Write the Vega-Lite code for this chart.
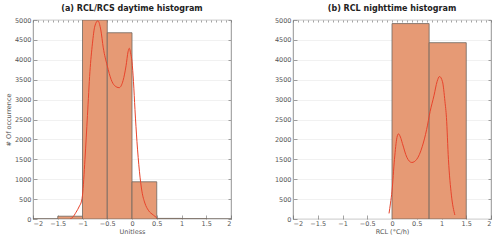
{
  "$schema": "https://vega.github.io/schema/vega-lite/v6.json",
  "background": "white",
  "padding": {"left": 5, "top": 4, "right": 5, "bottom": 5},
  "spacing": 42,
  "datasets": {
    "dayBars": [
      {"b0": -2, "b1": -1.5, "count": 5},
      {"b0": -1.5, "b1": -1, "count": 70},
      {"b0": -1, "b1": -0.5, "count": 5000},
      {"b0": -0.5, "b1": 0, "count": 4680},
      {"b0": 0, "b1": 0.5, "count": 935},
      {"b0": 0.5, "b1": 1, "count": 15},
      {"b0": 1, "b1": 1.5, "count": 8},
      {"b0": 1.5, "b1": 2, "count": 2}
    ],
    "dayCurve": [
      {"x": -1.25, "y": 0}, {"x": -1.2, "y": 40}, {"x": -1.13, "y": 170}, {"x": -1.06, "y": 330},
      {"x": -1.02, "y": 450}, {"x": -1.0, "y": 600}, {"x": -0.95, "y": 1500}, {"x": -0.9, "y": 2600},
      {"x": -0.85, "y": 3700}, {"x": -0.8, "y": 4400}, {"x": -0.75, "y": 4850}, {"x": -0.69, "y": 4980},
      {"x": -0.63, "y": 4750}, {"x": -0.58, "y": 4300}, {"x": -0.5, "y": 3850}, {"x": -0.42, "y": 3500},
      {"x": -0.35, "y": 3350}, {"x": -0.26, "y": 3300}, {"x": -0.18, "y": 3480}, {"x": -0.12, "y": 3850},
      {"x": -0.08, "y": 4200}, {"x": -0.055, "y": 4290}, {"x": -0.03, "y": 4180}, {"x": 0.0, "y": 3950},
      {"x": 0.03, "y": 3450}, {"x": 0.06, "y": 2750}, {"x": 0.1, "y": 1950}, {"x": 0.15, "y": 1200},
      {"x": 0.2, "y": 700}, {"x": 0.26, "y": 400}, {"x": 0.33, "y": 220}, {"x": 0.43, "y": 100}, {"x": 0.5, "y": 30}
    ],
    "nightBars": [
      {"b0": 0, "b1": 0.75, "count": 4910},
      {"b0": 0.75, "b1": 1.5, "count": 4430}
    ],
    "nightCurve": [
      {"x": -0.06, "y": 140}, {"x": -0.03, "y": 400}, {"x": 0.0, "y": 700}, {"x": 0.05, "y": 1500},
      {"x": 0.1, "y": 2050}, {"x": 0.13, "y": 2140}, {"x": 0.17, "y": 2060}, {"x": 0.21, "y": 1900},
      {"x": 0.3, "y": 1550}, {"x": 0.4, "y": 1420}, {"x": 0.5, "y": 1500}, {"x": 0.61, "y": 1815},
      {"x": 0.7, "y": 2250}, {"x": 0.77, "y": 2700}, {"x": 0.85, "y": 3110}, {"x": 0.91, "y": 3450},
      {"x": 0.96, "y": 3580}, {"x": 1.02, "y": 3450}, {"x": 1.07, "y": 2950}, {"x": 1.1, "y": 2550},
      {"x": 1.14, "y": 1500}, {"x": 1.2, "y": 600}, {"x": 1.27, "y": 100}
    ]
  },
  "config": {
    "font": "DejaVu Sans",
    "view": {"stroke": "#777777", "strokeWidth": 0.8},
    "axis": {
      "labelFont": "DejaVu Sans",
      "labelFontSize": 6.5,
      "labelColor": "#555555",
      "titleFont": "DejaVu Sans",
      "titleFontSize": 6.5,
      "titleFontWeight": "normal",
      "titleColor": "#555555",
      "domain": false,
      "tickColor": "#666666",
      "tickWidth": 0.6,
      "gridColor": "#eeeeee",
      "gridWidth": 0.8
    },
    "title": {"font": "DejaVu Sans", "fontSize": 8, "fontWeight": "bold", "color": "#222222", "offset": 4}
  },
  "hconcat": [
    {
      "width": 198,
      "height": 199,
      "title": "(a) RCL/RCS daytime histogram",
      "resolve": {"axis": {"x": "independent", "y": "independent"}},
      "layer": [
        {
          "data": {"name": "dayBars"},
          "mark": {"type": "rect", "fill": "#e69a75", "stroke": "#6f6760", "strokeWidth": 0.8, "clip": true},
          "encoding": {
            "x": {"field": "b0", "type": "quantitative", "scale": {"domain": [-2, 2], "nice": false},
              "axis": {"orient": "bottom", "values": [-2, -1.5, -1, -0.5, 0, 0.5, 1, 1.5, 2], "format": "~g", "tickSize": -4, "labelPadding": 5, "grid": false, "title": "Unitless", "titlePadding": 2}},
            "x2": {"field": "b1"},
            "y": {"field": "count", "type": "quantitative", "scale": {"domain": [0, 5000], "nice": false},
              "axis": {"orient": "left", "values": [0, 500, 1000, 1500, 2000, 2500, 3000, 3500, 4000, 4500, 5000], "format": "d", "tickSize": -4, "labelPadding": 6, "grid": true, "title": "# Of occurrence", "titlePadding": 3}},
            "y2": {"datum": 0}
          }
        },
        {
          "data": {"name": "dayCurve"},
          "mark": {"type": "line", "color": "#e8432b", "strokeWidth": 1, "interpolate": "monotone", "clip": true},
          "encoding": {
            "x": {"field": "x", "type": "quantitative",
              "axis": {"orient": "top", "values": [-2,-1.9,-1.8,-1.7,-1.6,-1.5,-1.4,-1.3,-1.2,-1.1,-1,-0.9,-0.8,-0.7,-0.6,-0.5,-0.4,-0.3,-0.2,-0.1,0,0.1,0.2,0.3,0.4,0.5,0.6,0.7,0.8,0.9,1,1.1,1.2,1.3,1.4,1.5,1.6,1.7,1.8,1.9,2], "labels": false, "tickSize": -2, "grid": false, "title": null}},
            "y": {"field": "y", "type": "quantitative",
              "axis": {"orient": "right", "values": [0,500,1000,1500,2000,2500,3000,3500,4000,4500,5000], "labels": false, "tickSize": -3, "grid": false, "title": null}}
          }
        }
      ]
    },
    {
      "width": 198,
      "height": 199,
      "title": "(b) RCL nighttime histogram",
      "resolve": {"axis": {"x": "independent", "y": "independent"}},
      "layer": [
        {
          "data": {"name": "nightBars"},
          "mark": {"type": "rect", "fill": "#e69a75", "stroke": "#6f6760", "strokeWidth": 0.8, "clip": true},
          "encoding": {
            "x": {"field": "b0", "type": "quantitative", "scale": {"domain": [-2, 2], "nice": false},
              "axis": {"orient": "bottom", "values": [-2, -1.5, -1, -0.5, 0, 0.5, 1, 1.5, 2], "format": "~g", "tickSize": -4, "labelPadding": 5, "grid": false, "title": "RCL (°C/h)", "titlePadding": 2}},
            "x2": {"field": "b1"},
            "y": {"field": "count", "type": "quantitative", "scale": {"domain": [0, 5000], "nice": false},
              "axis": {"orient": "left", "values": [0, 500, 1000, 1500, 2000, 2500, 3000, 3500, 4000, 4500, 5000], "format": "d", "tickSize": -4, "labelPadding": 6, "grid": true, "title": null}},
            "y2": {"datum": 0}
          }
        },
        {
          "data": {"name": "nightCurve"},
          "mark": {"type": "line", "color": "#e8432b", "strokeWidth": 1, "interpolate": "monotone", "clip": true},
          "encoding": {
            "x": {"field": "x", "type": "quantitative",
              "axis": {"orient": "top", "values": [-2,-1.9,-1.8,-1.7,-1.6,-1.5,-1.4,-1.3,-1.2,-1.1,-1,-0.9,-0.8,-0.7,-0.6,-0.5,-0.4,-0.3,-0.2,-0.1,0,0.1,0.2,0.3,0.4,0.5,0.6,0.7,0.8,0.9,1,1.1,1.2,1.3,1.4,1.5,1.6,1.7,1.8,1.9,2], "labels": false, "tickSize": -2, "grid": false, "title": null}},
            "y": {"field": "y", "type": "quantitative",
              "axis": {"orient": "right", "values": [0,500,1000,1500,2000,2500,3000,3500,4000,4500,5000], "labels": false, "tickSize": -3, "grid": false, "title": null}}
          }
        }
      ]
    }
  ]
}
